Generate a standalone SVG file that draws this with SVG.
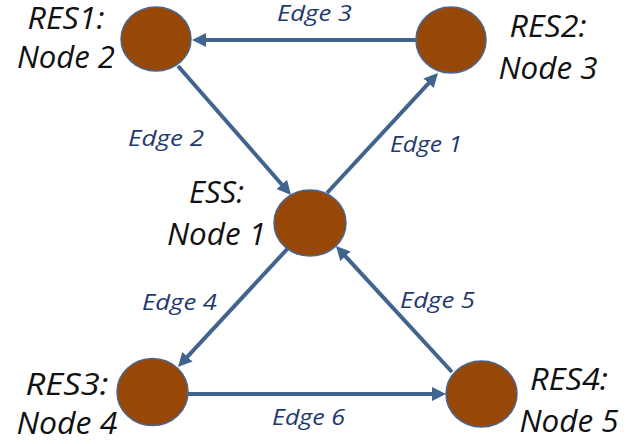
<svg xmlns="http://www.w3.org/2000/svg" width="637" height="444" viewBox="0 0 637 444">
<style>
.node{fill:#974806;stroke:#4A6590;stroke-width:1.5}
.lbl{font-family:"Open Sans","Liberation Sans",sans-serif;font-style:italic;font-size:31px;fill:#111;text-anchor:middle}
.elbl{font-family:"Open Sans","Liberation Sans",sans-serif;font-style:italic;font-size:21px;fill:#1F3A6E;text-anchor:middle}
.edge{stroke:#41648F;stroke-width:4;fill:none;marker-end:url(#ah)}
</style>
<defs>
<marker id="ah" markerUnits="userSpaceOnUse" markerWidth="16" markerHeight="16" refX="2" refY="7" orient="auto">
<path d="M0,0 L14,7 L0,14 z" fill="#41648F"/>
</marker>
</defs>
<rect width="637" height="444" fill="#fff"/>
<g id="connectors">
<line class="edge" x1="416" y1="40" x2="204" y2="40"/>
<line class="edge" x1="178" y1="66" x2="283.1" y2="186"/>
<line class="edge" x1="327" y1="193" x2="429.9" y2="81.8"/>
<line class="edge" x1="290" y1="246" x2="186.1" y2="358.2"/>
<line class="edge" x1="452" y1="372" x2="344.1" y2="254.8"/>
<line class="edge" x1="188" y1="394" x2="434" y2="394"/>
<text class="elbl" x="314.5" y="21" textLength="75" lengthAdjust="spacingAndGlyphs">Edge 3</text>
<text class="elbl" x="166" y="146" textLength="76" lengthAdjust="spacingAndGlyphs">Edge 2</text>
<text class="elbl" x="426" y="152" textLength="72" lengthAdjust="spacingAndGlyphs">Edge 1</text>
<text class="elbl" x="179.5" y="310" textLength="75" lengthAdjust="spacingAndGlyphs">Edge 4</text>
<text class="elbl" x="437.5" y="308" textLength="75" lengthAdjust="spacingAndGlyphs">Edge 5</text>
<text class="elbl" x="308.5" y="425" textLength="73" lengthAdjust="spacingAndGlyphs">Edge 6</text>
</g>
<g id="node1">
<ellipse class="node" cx="310" cy="223" rx="36" ry="33"/>
<text class="lbl" x="216.5" y="203" textLength="55" lengthAdjust="spacingAndGlyphs">ESS:</text>
<text class="lbl" x="216.5" y="245" textLength="99" lengthAdjust="spacingAndGlyphs">Node 1</text>
</g>
<g id="node2">
<ellipse class="node" cx="156" cy="39" rx="35" ry="32"/>
<text class="lbl" x="66" y="29" textLength="77" lengthAdjust="spacingAndGlyphs">RES1:</text>
<text class="lbl" x="66" y="68" textLength="98" lengthAdjust="spacingAndGlyphs">Node 2</text>
</g>
<g id="node3">
<ellipse class="node" cx="451" cy="40" rx="35" ry="33"/>
<text class="lbl" x="548" y="37" textLength="77" lengthAdjust="spacingAndGlyphs">RES2:</text>
<text class="lbl" x="548" y="79" textLength="99" lengthAdjust="spacingAndGlyphs">Node 3</text>
</g>
<g id="node4">
<ellipse class="node" cx="152.5" cy="392" rx="35.5" ry="33.5"/>
<text class="lbl" x="67" y="395" textLength="83" lengthAdjust="spacingAndGlyphs">RES3:</text>
<text class="lbl" x="67" y="434" textLength="101" lengthAdjust="spacingAndGlyphs">Node 4</text>
</g>
<g id="node5">
<ellipse class="node" cx="481.5" cy="394" rx="35.5" ry="33"/>
<text class="lbl" x="569" y="390" textLength="78" lengthAdjust="spacingAndGlyphs">RES4:</text>
<text class="lbl" x="569" y="432" textLength="99" lengthAdjust="spacingAndGlyphs">Node 5</text>
</g>
</svg>
